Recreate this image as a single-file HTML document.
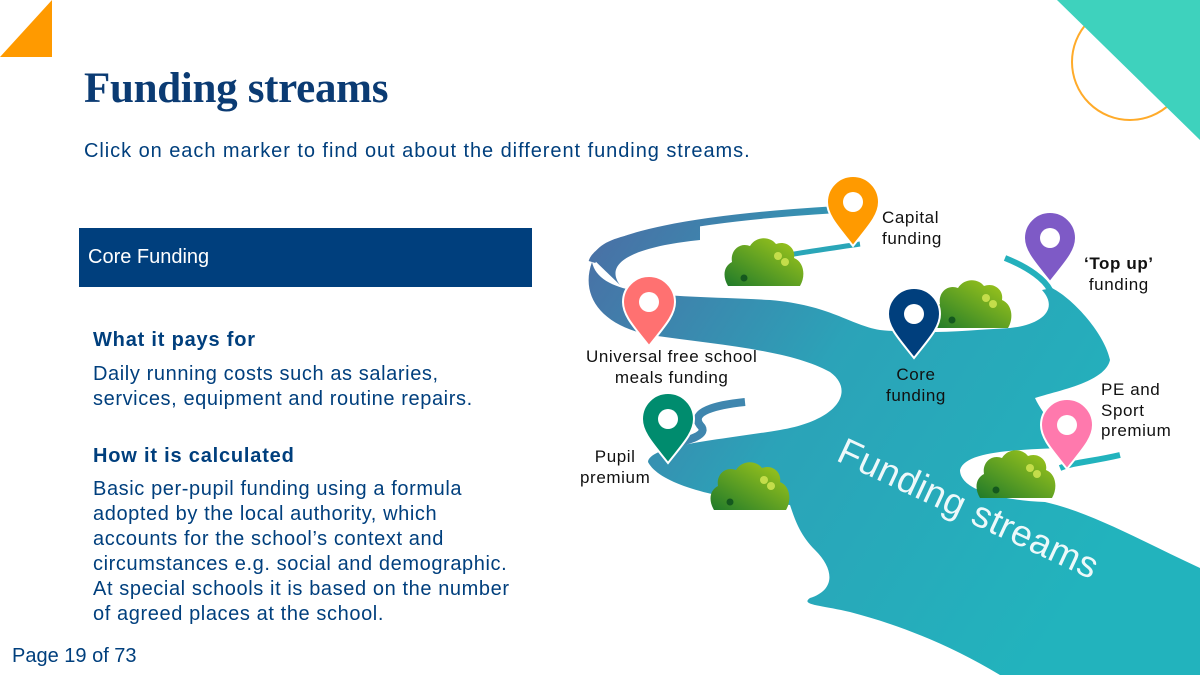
<!DOCTYPE html>
<html><head><meta charset="utf-8"><style>
body{margin:0;width:1200px;height:675px;overflow:hidden;background:#fff;position:relative;font-family:"Liberation Sans",sans-serif;color:#003f7d}
.a{position:absolute;white-space:nowrap}
h1{position:absolute;left:84px;top:64px;margin:0;font-family:"Liberation Serif",serif;font-weight:bold;font-size:43px;color:#0b3b73;letter-spacing:-0.3px}
.sub{left:84px;top:140px;font-size:20px;letter-spacing:0.95px;color:#003f7d}
.box{left:79px;top:228px;width:453px;height:59px;background:#003f7d;color:#fff;font-size:20px;line-height:59px;padding-left:9px;box-sizing:border-box}
.h{font-weight:bold;font-size:20px;letter-spacing:0.8px;left:93px}
.p{left:93px;font-size:20px;line-height:25px;letter-spacing:0.6px}
.lbl{font-size:17px;letter-spacing:0.6px;color:#111;line-height:20.5px;text-align:center}
</style></head><body>
<svg class="a" style="left:0;top:0" width="1200" height="675">
<defs>
<linearGradient id="rv" x1="590" y1="230" x2="1100" y2="560" gradientUnits="userSpaceOnUse">
<stop offset="0" stop-color="#4a6fa5"/><stop offset="0.45" stop-color="#2ba3b8"/><stop offset="1" stop-color="#22b3bd"/></linearGradient>
<linearGradient id="bu" x1="0" y1="1" x2="1" y2="0"><stop offset="0" stop-color="#1f7a2a"/><stop offset="1" stop-color="#a9cc1a"/></linearGradient>
<g id="bush"><path d="M0 50 C-6 40 -4 30 4 26 C2 14 12 6 22 10 C28 0 42 0 48 8 C58 4 68 12 66 22 C76 26 78 40 72 50 Z" fill="url(#bu)"/><circle cx="50" cy="20" r="4" fill="#c4dd4a"/><circle cx="57" cy="26" r="4" fill="#c4dd4a"/><circle cx="16" cy="42" r="3.5" fill="#14581e"/></g>
<g id="pin"><path d="M0 0 C-14 -18 -26 -30 -26 -44 A26 26 0 1 1 26 -44 C26 -30 14 -18 0 0 Z" stroke="#fff" stroke-width="2"/><circle cx="0" cy="-44" r="10" fill="#fff"/></g>
</defs>
<polygon points="0,57 52,0 52,57" fill="#ff9a00"/>
<circle cx="1130" cy="62" r="58" fill="none" stroke="#ffab2a" stroke-width="2"/>
<polygon points="1057,0 1200,0 1200,140" fill="#3ed2bd"/>
<path d="M830 210 C700 218 600 235 592 262" stroke="url(#rv)" stroke-width="7" fill="none"/>
<path d="M592 258 C600 235 640 232 700 225 L700 240 C650 245 600 258 620 285 Z" fill="url(#rv)"/>
<path d="M860 244 C820 250 780 255 760 262" stroke="#2aa6b8" stroke-width="5" fill="none"/>
<path d="M1005 258 C1030 268 1045 280 1050 290" stroke="#24b0bc" stroke-width="6" fill="none"/>
<path d="M1120 455 C1090 462 1075 462 1060 468" stroke="#22b3bd" stroke-width="6" fill="none"/>
<path d="M745 402 C715 405 690 412 700 425 C710 435 690 440 660 448" stroke="#3f86ae" stroke-width="8" fill="none"/>
<path d="M592 262 C600 300 680 295 770 300 C830 305 850 325 880 330 C930 335 970 330 1010 328 C1040 325 1060 310 1042 290 L1052 288 C1075 300 1105 335 1110 360 C1105 382 1060 390 1035 398 C1045 420 1070 440 1060 448 C1010 450 965 452 960 470 C960 490 1000 500 1045 502 C1090 512 1140 540 1200 568 L1200 675 L1000 675 C950 645 900 625 850 612 C820 605 800 605 810 598 C835 590 835 570 815 550 C800 535 795 520 790 505 C720 500 660 485 648 462 C650 445 720 440 780 430 C840 420 855 390 830 372 C790 350 720 345 650 335 C600 325 580 295 592 262 Z" fill="url(#rv)"/>
<path d="M690 262 C720 258 760 258 790 268 L780 300 C740 296 710 292 690 285 Z" fill="#fff"/>
<use href="#bush" x="728" y="236"/>
<use href="#bush" x="936" y="278"/>
<use href="#bush" x="714" y="460"/>
<use href="#bush" x="980" y="448"/>
<text x="835" y="460" transform="rotate(25 835 460)" font-family="Liberation Sans,sans-serif" font-size="37" fill="#fff" fill-opacity="0.92" letter-spacing="0.5">Funding streams</text>
<use href="#pin" x="853" y="246" fill="#ff9a00"/>
<use href="#pin" x="1050" y="282" fill="#7e5ac6"/>
<use href="#pin" x="649" y="346" fill="#ff7171"/>
<use href="#pin" x="914" y="358" fill="#003f7d"/>
<use href="#pin" x="668" y="463" fill="#008c6e"/>
<use href="#pin" x="1067" y="469" fill="#ff79ad"/>
</svg>
<h1>Funding streams</h1>
<div class="a sub">Click on each marker to find out about the different funding streams.</div>
<div class="a box">Core Funding</div>
<div class="a h" style="top:329px">What it pays for</div>
<div class="a p" style="top:362px">Daily running costs such as salaries,<br>services, equipment and routine repairs.</div>
<div class="a h" style="top:445px">How it is calculated</div>
<div class="a p" style="top:477px">Basic per-pupil funding using a formula<br>adopted by the local authority, which<br>accounts for the school’s context and<br>circumstances e.g. social and demographic.<br>At special schools it is based on the number<br>of agreed places at the school.</div>
<div class="a" style="left:12px;top:645px;font-size:20px">Page 19 of 73</div>
<div class="a lbl" style="left:882px;top:208px;text-align:left">Capital<br>funding</div>
<div class="a lbl" style="left:1084px;top:254px"><b>‘Top up’</b><br>funding</div>
<div class="a lbl" style="left:586px;top:347px">Universal free school<br>meals funding</div>
<div class="a lbl" style="left:886px;top:365px">Core<br>funding</div>
<div class="a lbl" style="left:1101px;top:380px;text-align:left">PE and<br>Sport<br>premium</div>
<div class="a lbl" style="left:580px;top:447px">Pupil<br>premium</div>
</body></html>
